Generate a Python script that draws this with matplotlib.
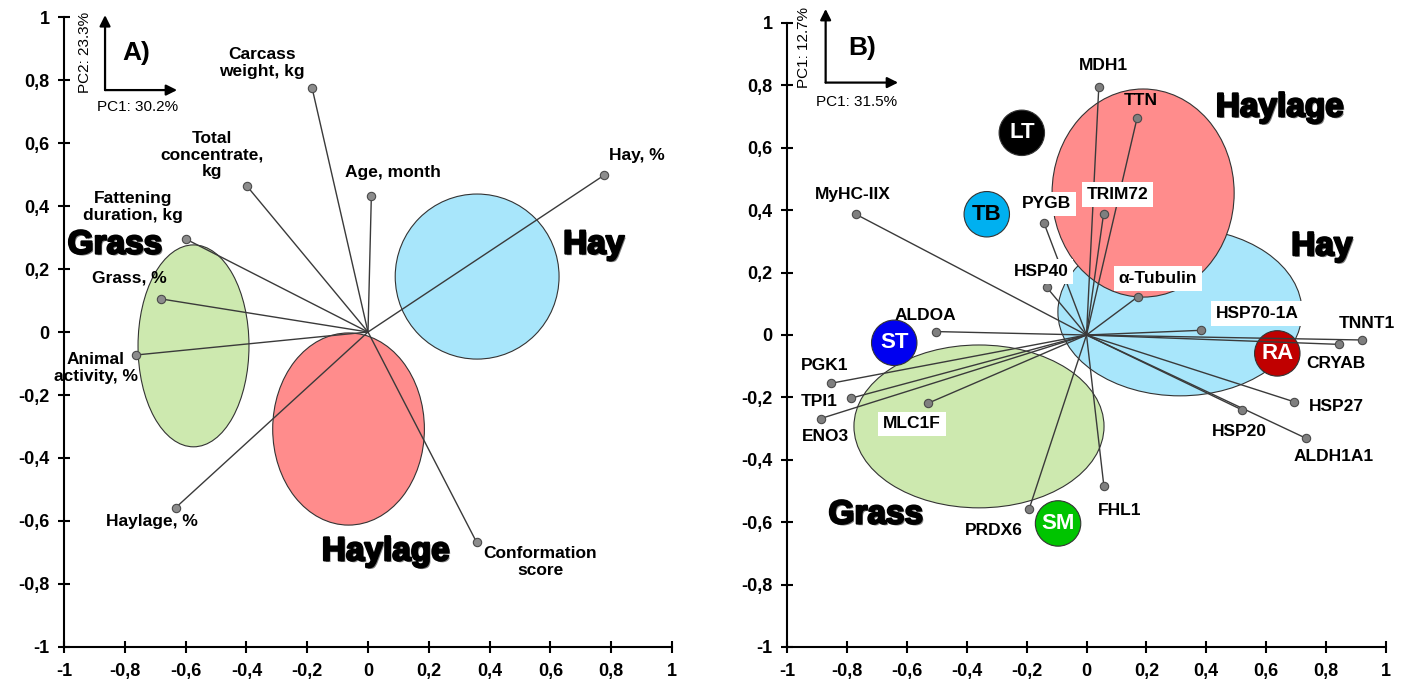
import numpy as np
import matplotlib
matplotlib.use('Agg')
import matplotlib.pyplot as plt
from matplotlib.patches import Ellipse
from matplotlib.ticker import FuncFormatter
import matplotlib.patheffects as pe

plt.rcParams['font.family'] = ['Liberation Sans', 'DejaVu Sans']

# ---- Panel A: loadings of rearing factors ----
vars_a = ['Carcass\nweight, kg', 'Total\nconcentrate,\nkg', 'Fattening\nduration, kg',
          'Grass, %', 'Animal\nactivity, %', 'Haylage, %', 'Conformation\nscore',
          'Age, month', 'Hay, %']
x_a = [-0.184, -0.398, -0.599, -0.681, -0.763, -0.633, 0.357, 0.011, 0.777]
y_a = [0.775, 0.463, 0.295, 0.105, -0.073, -0.558, -0.667, 0.432, 0.498]

groups_a = ['Grass', 'Haylage', 'Hay']
ell_x_a = [-0.574, -0.064, 0.359]
ell_y_a = [-0.044, -0.308, 0.176]
ell_w_a = [0.365, 0.499, 0.539]
ell_h_a = [0.641, 0.610, 0.524]

# ---- Panel B: loadings of proteins ----
vars_b = ['MyHC-IIX', 'ALDOA', 'PYGB', 'HSP40', 'MDH1', 'TTN', 'TRIM72', 'α-Tubulin',
          'HSP70-1A', 'TNNT1', 'CRYAB', 'HSP27', 'HSP20', 'ALDH1A1', 'FHL1', 'PRDX6',
          'MLC1F', 'PGK1', 'TPI1', 'ENO3']
x_b = [-0.770, -0.503, -0.142, -0.133, 0.041, 0.169, 0.057, 0.172, 0.382, 0.921,
       0.842, 0.693, 0.519, 0.733, 0.058, -0.192, -0.530, -0.854, -0.788, -0.888]
y_b = [0.387, 0.011, 0.359, 0.153, 0.794, 0.696, 0.388, 0.123, 0.015, -0.016,
       -0.030, -0.214, -0.240, -0.331, -0.484, -0.559, -0.219, -0.155, -0.203, -0.268]

groups_b = ['Grass', 'Hay', 'Haylage']
ell_x_b = [-0.359, 0.312, 0.189]
ell_y_b = [-0.293, 0.074, 0.455]
ell_w_b = [0.835, 0.815, 0.608]
ell_h_b = [0.522, 0.538, 0.667]

muscles = ['LT', 'TB', 'ST', 'RA', 'SM']
mus_x = [-0.216, -0.333, -0.642, 0.637, -0.095]
mus_y = [0.648, 0.387, -0.025, -0.059, -0.604]

# label placement (data coords)
lab_a = [(-0.349, 0.854), (-0.513, 0.562), (-0.773, 0.397), (-0.786, 0.171),
         (-0.895, -0.114), (-0.711, -0.603), (0.566, -0.730), (0.082, 0.505),
         (0.885, 0.559)]
big_a = [(-0.832, 0.276), (0.059, -0.698), (0.743, 0.276)]
lab_b = [(-0.781, 0.451), (-0.539, 0.061), (-0.132, 0.420), (-0.152, 0.203),
         (0.055, 0.865), (0.182, 0.753), (0.104, 0.451), (0.239, 0.182),
         (0.569, 0.070), (0.937, 0.038), (0.833, -0.091), (0.833, -0.228),
         (0.509, -0.308), (0.826, -0.388), (0.112, -0.561), (-0.309, -0.628),
         (-0.583, -0.285), (-0.873, -0.099), (-0.893, -0.212), (-0.873, -0.324)]
boxed_b = ['PYGB', 'HSP40', 'TRIM72', 'α-Tubulin', 'HSP70-1A', 'MLC1F']
big_b = [(-0.703, -0.577), (0.786, 0.283), (0.646, 0.728)]

colors = {'Grass': '#cde9af', 'Hay': '#a8e6fb', 'Haylage': '#ff8c8c'}
mus_col = {'LT': 'black', 'TB': '#00b0f0', 'ST': '#0000f0', 'RA': '#c00000', 'SM': '#00c400'}
mus_txt = {'LT': 'white', 'TB': 'black', 'ST': 'white', 'RA': 'white', 'SM': 'white'}

big_fx = [pe.SimplePatchShadow(offset=(1.2, -1.2), shadow_rgbFace='#808080', alpha=1.0),
          pe.Stroke(linewidth=1.6, foreground='black'), pe.Normal()]


def tick_fmt(v, p):
    v = round(v, 1)
    if abs(v) < 1e-9:
        return '0'
    return ('%g' % v).replace('.', ',')


fmt = FuncFormatter(tick_fmt)


def setup(ax):
    ax.set_xlim(-1, 1)
    ax.set_ylim(-1, 1)
    for s in ['top', 'right']:
        ax.spines[s].set_visible(False)
    for s in ['left', 'bottom']:
        ax.spines[s].set_linewidth(1.5)
    ticks = np.linspace(-1, 1, 11)
    ax.set_xticks(ticks)
    ax.set_yticks(ticks)
    ax.xaxis.set_major_formatter(fmt)
    ax.yaxis.set_major_formatter(fmt)
    ax.tick_params(direction='inout', length=9, width=1.5, labelsize=13)
    ax.tick_params(axis='x', pad=7)
    ax.tick_params(axis='y', pad=6)
    for t in ax.get_xticklabels() + ax.get_yticklabels():
        t.set_fontweight('bold')


def pc_arrows(ax, x0, y0, x1, y1, ylab, xlab, ylab_xy, xlab_xy, tag, tag_xy):
    ap = dict(arrowstyle='-|>', mutation_scale=16, lw=1.6, color='black', shrinkA=0, shrinkB=0)
    ax.annotate('', xy=(x0, y1), xytext=(x0, y0), arrowprops=ap, annotation_clip=False)
    ax.annotate('', xy=(x1, y0), xytext=(x0, y0), arrowprops=ap, annotation_clip=False)
    ax.text(ylab_xy[0], ylab_xy[1], ylab, rotation=90, fontsize=11, ha='center', va='center',
            clip_on=False)
    ax.text(xlab_xy[0], xlab_xy[1], xlab, fontsize=11, ha='center', va='center')
    ax.text(tag_xy[0], tag_xy[1], tag, fontsize=19, fontweight='bold', ha='center', va='center')


fig = plt.figure(figsize=(14.12, 6.9), dpi=100)
axA = fig.add_axes([0.04533, 0.06232, 0.43059, 0.91304])
axB = fig.add_axes([0.55737, 0.06232, 0.42422, 0.90435])

# ---- draw A ----
setup(axA)
for g, cx, cy, w, h in zip(groups_a, ell_x_a, ell_y_a, ell_w_a, ell_h_a):
    axA.add_patch(Ellipse((cx, cy), w, h, facecolor=colors[g], edgecolor='#333333', lw=0.8, zorder=1))
for xv, yv in zip(x_a, y_a):
    axA.plot([0, xv], [0, yv], color='#3a3a3a', lw=1.0, zorder=2)
axA.plot(x_a, y_a, 'o', ms=6, mfc='#8c8c8c', mec='#4a4a4a', mew=0.8, zorder=3)
for name, (tx, ty) in zip(vars_a, lab_a):
    axA.text(tx, ty, name, fontsize=12.5, fontweight='bold', ha='center', va='center',
             linespacing=1.1, zorder=4)
for g, (tx, ty) in zip(groups_a, big_a):
    axA.text(tx, ty, g, fontsize=24, fontweight='bold', ha='center', va='center',
             path_effects=big_fx, zorder=4)
pc_arrows(axA, -0.865, 0.768, -0.628, 1.006, 'PC2: 23.3%', 'PC1: 30.2%',
          (-0.931, 0.886), (-0.757, 0.714), 'A)', (-0.763, 0.886))

# ---- draw B ----
setup(axB)
for g, cx, cy, w, h in zip(groups_b, ell_x_b, ell_y_b, ell_w_b, ell_h_b):
    axB.add_patch(Ellipse((cx, cy), w, h, facecolor=colors[g], edgecolor='#333333', lw=0.8, zorder=1))
axB.scatter(mus_x, mus_y, s=1070, c=[mus_col[m] for m in muscles], edgecolors='#333333',
            linewidths=0.8, zorder=2)
for m, mx, my in zip(muscles, mus_x, mus_y):
    axB.text(mx, my, m, fontsize=16, fontweight='bold', color=mus_txt[m], ha='center',
             va='center', zorder=2.5)
for xv, yv in zip(x_b, y_b):
    axB.plot([0, xv], [0, yv], color='#3a3a3a', lw=1.0, zorder=3)
axB.plot(x_b, y_b, 'o', ms=6, mfc='#7f7f7f', mec='#4a4a4a', mew=0.8, zorder=3.5)
for name, (tx, ty) in zip(vars_b, lab_b):
    kw = {}
    if name in boxed_b:
        kw['bbox'] = dict(facecolor='white', edgecolor='none', pad=3.5)
    axB.text(tx, ty, name, fontsize=12.5, fontweight='bold', ha='center', va='center',
             zorder=4, **kw)
for g, (tx, ty) in zip(groups_b, big_b):
    axB.text(tx, ty, g, fontsize=24, fontweight='bold', ha='center', va='center',
             path_effects=big_fx, zorder=4)
pc_arrows(axB, -0.871, 0.809, -0.629, 1.045, 'PC1: 12.7%', 'PC1: 31.5%',
          (-0.942, 0.920), (-0.767, 0.748), 'B)', (-0.750, 0.919))

fig.savefig('out.png', dpi=100)
